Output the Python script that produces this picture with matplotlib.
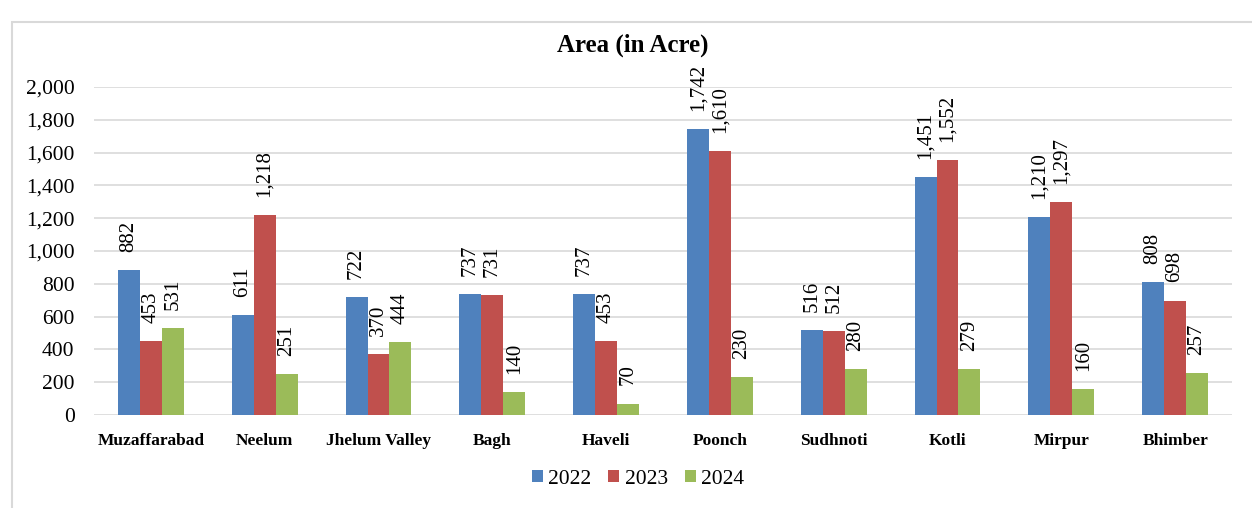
import matplotlib
matplotlib.use("Agg")
import matplotlib.pyplot as plt
import numpy as np
from matplotlib.patches import Rectangle
from matplotlib.ticker import FuncFormatter

categories = ["Muzaffarabad", "Neelum", "Jhelum Valley", "Bagh", "Haveli",
              "Poonch", "Sudhnoti", "Kotli", "Mirpur", "Bhimber"]
years = ["2022", "2023", "2024"]
v2022 = [882, 611, 722, 737, 737, 1742, 516, 1451, 1210, 808]
v2023 = [453, 1218, 370, 731, 453, 1610, 512, 1552, 1297, 698]
v2024 = [531, 251, 444, 140, 70, 230, 280, 279, 160, 257]
series = [v2022, v2023, v2024]
colors = ["#4F81BD", "#C0504D", "#9BBB59"]

plt.rcParams['font.family'] = ['Liberation Serif', 'DejaVu Serif']

fig = plt.figure(figsize=(12.52, 5.08), dpi=100)
W, H = 1252, 508
# chart border
fig.patches.append(Rectangle((12 / W, -0.01), 1.1, 1 - 22 / H + 0.01,
                             transform=fig.transFigure, fill=False,
                             edgecolor="#D9D9D9", linewidth=1.5))

ax = fig.add_axes([94 / W, (H - 415) / H, (1232 - 94) / W, (415 - 87) / H])
x = np.arange(len(categories))
bw = 0.193
for i, (vals, c, y) in enumerate(zip(series, colors, years)):
    pos = x + (i - 1) * bw
    ax.bar(pos, vals, width=bw, color=c, label=y, zorder=3)
    for p, v in zip(pos, vals):
        ax.annotate(f"{v:,}", (p, v), xytext=(0, 13), textcoords="offset points",
                    rotation=90, ha="center", va="bottom", fontsize=15)

ax.set_xlim(-0.5, len(categories) - 0.5)
ax.set_ylim(0, 2000)
ax.set_yticks(range(0, 2001, 200))
ax.yaxis.set_major_formatter(FuncFormatter(lambda v, p: f"{int(v):,}"))
ax.grid(axis="y", color="#D9D9D9", linewidth=1.2, zorder=0)
for s in ax.spines.values():
    s.set_visible(False)
ax.tick_params(axis="both", length=0)
ax.tick_params(axis="y", labelsize=15.5, pad=14)
ax.set_xticks(x)
ax.set_xticklabels(categories, fontsize=12.5, fontweight="bold")
ax.tick_params(axis="x", pad=13)

fig.text(633 / W, 1 - 45 / H, "Area (in Acre)", ha="center", va="center",
         fontsize=18, fontweight="bold")

handles, labels = ax.get_legend_handles_labels()
fig.legend(handles, labels, loc="center", bbox_to_anchor=(638 / W, 1 - 479 / H),
           ncol=3, frameon=False, fontsize=15.5, handlelength=0.5,
           handleheight=0.5, handletextpad=0.25, columnspacing=0.8)

fig.savefig("out.png", dpi=100)
